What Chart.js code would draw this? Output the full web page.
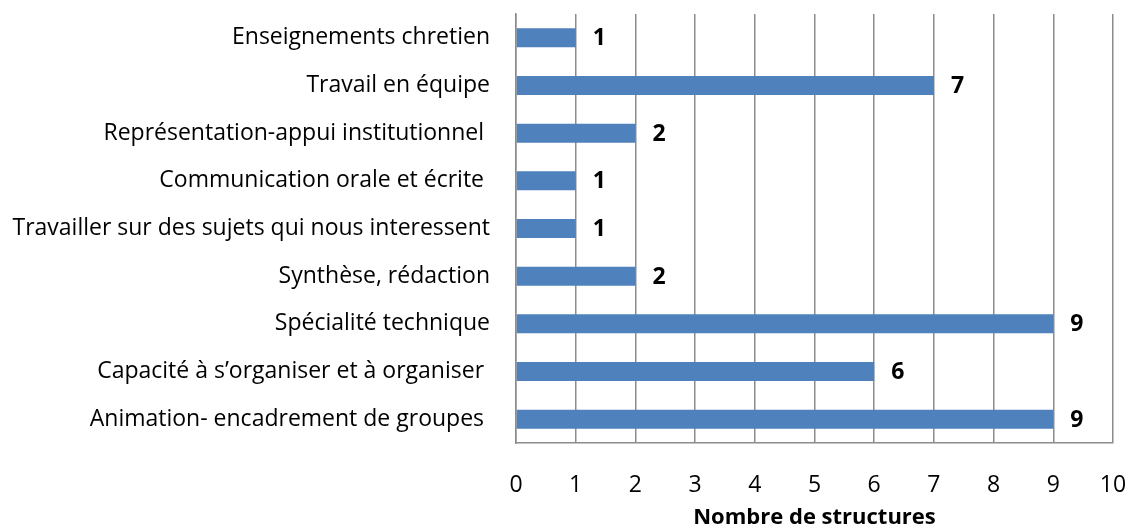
<!DOCTYPE html>
<html>
<head>
<meta charset="utf-8">
<script src="https://cdn.jsdelivr.net/npm/chart.js@4"></script>
<style>
  html, body { margin: 0; padding: 0; background: #fff; }
  #wrap { width: 1126px; height: 527px; }
</style>
</head>
<body>
<div id="wrap"><canvas id="skillsChart"></canvas></div>
<script>
const categories = [
    'Enseignements chretien',
    'Travail en équipe',
    'Représentation-appui institutionnel ',
    'Communication orale et écrite ',
    'Travailler sur des sujets qui nous interessent',
    'Synthèse, rédaction',
    'Spécialité technique',
    'Capacité à s\u2019organiser et à organiser ',
    'Animation- encadrement de groupes '
];
const structures = [1, 7, 2, 1, 1, 2, 9, 6, 9];
const xTicks = [0, 1, 2, 3, 4, 5, 6, 7, 8, 9, 10];

const FONT = "'Open Sans', sans-serif";

// value written just after the end of each bar
const valueLabels = {
    id: 'valueLabels',
    afterDatasetsDraw(chart) {
        const ctx = chart.ctx;
        const meta = chart.getDatasetMeta(0);
        ctx.save();
        ctx.font = 'bold 23px ' + FONT;
        ctx.fillStyle = '#000';
        ctx.textAlign = 'left';
        ctx.textBaseline = 'middle';
        meta.data.forEach(function (bar, i) {
            ctx.fillText(structures[i], bar.x + 17, bar.y + 1);
        });
        ctx.restore();
    }
};

function noEdgePadding(scale) {
    scale.paddingTop = 0;
    scale.paddingBottom = 0;
    scale.paddingLeft = 0;
    scale.paddingRight = 0;
}

document.addEventListener('DOMContentLoaded', function () {
    const ctx = document.getElementById('skillsChart').getContext('2d');
    new Chart(ctx, {
        type: 'bar',
        data: {
            labels: categories,
            datasets: [{
                label: 'Nombre de structures',
                data: structures,
                backgroundColor: '#4F81BD',
                borderWidth: 0,
                barPercentage: 0.8,
                categoryPercentage: 0.5
            }]
        },
        options: {
            indexAxis: 'y',
            responsive: true,
            maintainAspectRatio: false,
            animation: false,
            layout: {
                padding: { top: 14, right: 13, bottom: 0, left: 0 }
            },
            scales: {
                x: {
                    min: 0,
                    max: 10,
                    afterBuildTicks: function (scale) {
                        scale.ticks = xTicks.map(function (v) { return { value: v }; });
                    },
                    afterFit: function (scale) {
                        scale.height = 84;
                        noEdgePadding(scale);
                    },
                    ticks: {
                        color: '#000',
                        font: { family: FONT, size: 23 },
                        padding: 29,
                        maxRotation: 0
                    },
                    grid: {
                        color: '#8C8C8C',
                        lineWidth: 1.5,
                        drawTicks: false
                    },
                    border: { display: true, color: '#8C8C8C', width: 1.5 },
                    title: {
                        display: true,
                        text: 'Nombre de structures',
                        color: '#000',
                        font: { family: FONT, size: 22, weight: 'bold', lineHeight: 0.8 },
                        padding: { top: 0, bottom: 0 }
                    }
                },
                y: {
                    afterFit: function (scale) {
                        scale.width = 516;
                        noEdgePadding(scale);
                    },
                    ticks: {
                        color: '#000',
                        font: { family: FONT, size: 23 },
                        padding: 26
                    },
                    grid: { display: false, drawTicks: false },
                    border: { display: true, color: '#8C8C8C', width: 1.5 }
                }
            },
            plugins: {
                legend: { display: false },
                tooltip: { enabled: false }
            }
        },
        plugins: [valueLabels]
    });
});
</script>
</body>
</html>
